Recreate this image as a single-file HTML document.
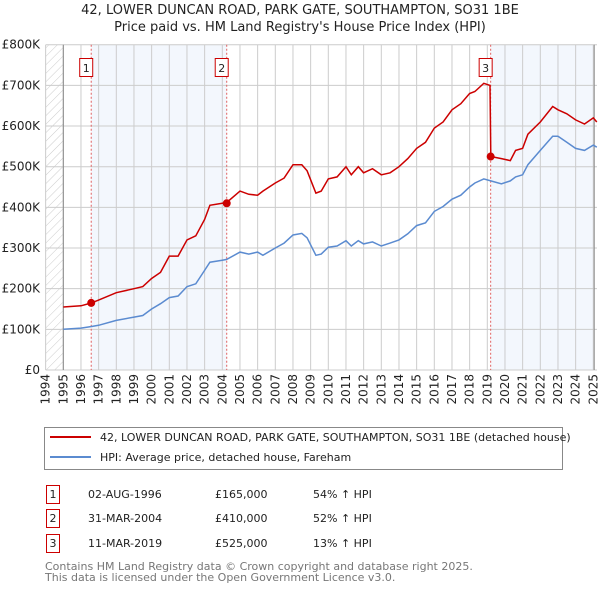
<!DOCTYPE html>
<html><head><meta charset="utf-8">
<style>
body{margin:0;background:#fff;font-family:"Liberation Sans","DejaVu Sans",sans-serif;}
svg text{font-family:"DejaVu Sans","Liberation Sans",sans-serif;}
</style></head>
<body>
<svg id="chart" width="600" height="590" viewBox="0 0 600 590">
<defs>
<pattern id="hatch" width="6" height="6" patternUnits="userSpaceOnUse" patternTransform="rotate(45)">
<line x1="0" y1="0" x2="0" y2="6" stroke="#ccc" stroke-width="1"/>
</pattern>
</defs>
<text x="300" y="14" text-anchor="middle" font-size="13" fill="#222">42, LOWER DUNCAN ROAD, PARK GATE, SOUTHAMPTON, SO31 1BE</text>
<text x="300" y="31" text-anchor="middle" font-size="13" fill="#222">Price paid vs. HM Land Registry's House Price Index (HPI)</text>
<g id="plot"></g>
<g id="legend">
<rect x="44.5" y="427.5" width="518" height="42" fill="#fff" stroke="#888"/>
<line x1="50" y1="437" x2="91" y2="437" stroke="#cc0000" stroke-width="2"/>
<text x="100" y="441" font-size="11" fill="#222">42, LOWER DUNCAN ROAD, PARK GATE, SOUTHAMPTON, SO31 1BE (detached house)</text>
<line x1="50" y1="457" x2="91" y2="457" stroke="#5b8bd0" stroke-width="2"/>
<text x="100" y="461" font-size="11" fill="#222">HPI: Average price, detached house, Fareham</text>
</g>
<g id="table" font-size="11" fill="#222">
<rect x="46.5" y="485.5" width="13" height="18" fill="#fff" stroke="#cc0000"/><text x="53" y="498" text-anchor="middle">1</text>
<text x="88" y="498">02-AUG-1996</text><text x="215" y="498">£165,000</text><text x="313" y="498">54% ↑ HPI</text>
<rect x="46.5" y="509.5" width="13" height="18" fill="#fff" stroke="#cc0000"/><text x="53" y="522" text-anchor="middle">2</text>
<text x="88" y="522">31-MAR-2004</text><text x="215" y="522">£410,000</text><text x="313" y="522">52% ↑ HPI</text>
<rect x="46.5" y="534.5" width="13" height="18" fill="#fff" stroke="#cc0000"/><text x="53" y="547" text-anchor="middle">3</text>
<text x="88" y="547">11-MAR-2019</text><text x="215" y="547">£525,000</text><text x="313" y="547">13% ↑ HPI</text>
</g>
<text x="45" y="570" font-size="11" fill="#777">Contains HM Land Registry data © Crown copyright and database right 2025.</text>
<text x="45" y="581" font-size="11" fill="#777">This data is licensed under the Open Government Licence v3.0.</text>
</svg>
<script>
const hpiYears=[1995,1996,1996.6,1997,1998,1999,1999.5,2000,2000.5,2001,2001.5,2002,2002.5,2003,2003.3,2004,2004.25,2005,2005.5,2006,2006.3,2007,2007.5,2008,2008.5,2008.8,2009.3,2009.6,2010,2010.5,2011,2011.3,2011.7,2012,2012.5,2013,2013.5,2014,2014.5,2015,2015.5,2016,2016.5,2017,2017.5,2018,2018.3,2018.8,2019.2,2019.8,2020.3,2020.6,2021,2021.3,2022,2022.7,2023,2023.5,2024,2024.5,2025,2025.2];
const hpiValues=[100,103,107,110,122,130,134,150,163,178,182,205,212,245,265,270,272,290,285,290,282,300,312,332,336,325,282,285,302,305,318,305,318,310,315,305,312,320,335,355,362,390,402,420,430,450,460,470,465,458,465,475,480,505,540,575,575,560,545,540,553,548];
const priceYears=[1995,1996,1996.6,1997,1998,1999,1999.5,2000,2000.5,2001,2001.5,2002,2002.5,2003,2003.3,2004,2004.25,2005,2005.5,2006,2006.3,2007,2007.5,2008,2008.5,2008.8,2009.3,2009.6,2010,2010.5,2011,2011.3,2011.7,2012,2012.5,2013,2013.5,2014,2014.5,2015,2015.5,2016,2016.5,2017,2017.5,2018,2018.3,2018.8,2019.15,2019.2,2019.8,2020.3,2020.6,2021,2021.3,2022,2022.7,2023,2023.5,2024,2024.5,2025,2025.2];
const priceValues=[155,158,165,172,190,200,205,225,240,280,280,320,330,370,405,410,412,440,432,430,440,460,472,505,505,490,435,440,470,475,500,480,500,485,495,480,485,500,520,545,560,595,610,640,655,680,685,705,700,525,520,515,540,545,580,610,648,640,630,615,605,620,610];
const saleYears=[1996.58,2004.25,2019.19];
const saleValues=[165,410,525];
const saleLabels=["1","2","3"];
const yTicks=[0,100,200,300,400,500,600,700,800];
const yTickLabels=["£0","£100K","£200K","£300K","£400K","£500K","£600K","£700K","£800K"];
const xTicks=[1994,1995,1996,1997,1998,1999,2000,2001,2002,2003,2004,2005,2006,2007,2008,2009,2010,2011,2012,2013,2014,2015,2016,2017,2018,2019,2020,2021,2022,2023,2024,2025];

const L=45.7,R=597,T=44.7,B=370;
const x=v=>63.3+(v-1995)*17.667;
const y=v=>B-(v/800)*(B-T);
const NS="http://www.w3.org/2000/svg";
const g=document.getElementById('plot');
function el(t,a,p){const e=document.createElementNS(NS,t);for(const k in a)e.setAttribute(k,a[k]);(p||g).appendChild(e);return e;}

// shading
let s1=el('rect',{x:x(saleYears[0]),y:T,width:x(saleYears[1])-x(saleYears[0]),height:B-T,fill:'#eef3fc',opacity:0.7});


let s2=el('rect',{x:x(saleYears[2]),y:T,width:x(2025)-x(saleYears[2]),height:B-T,fill:'#eef3fc',opacity:0.7});


let hz=el('rect',{x:L,y:T,width:x(1995)-L,height:B-T,fill:'url(#hatch)'});


// grid
yTicks.forEach((t,i)=>{
  let ln=el('line',{x1:L,x2:R,y1:y(t),y2:y(t),stroke:'#ccc','stroke-width':1});
  
  
  let tx=el('text',{x:40,y:y(t)+4,'text-anchor':'end','font-size':12,fill:'#222'});
  tx.textContent=yTickLabels[i];
  
  
});
xTicks.forEach(t=>{
  let ln=el('line',{x1:x(t),x2:x(t),y1:T,y2:B,stroke:'#ccc','stroke-width':1});
  
  
  let tx=el('text',{x:0,y:0,'text-anchor':'end','font-size':12,fill:'#222',transform:`translate(${x(t)+4},${B+4}) rotate(-90)`});
  tx.textContent=t;
  
  
});
let ax=el('line',{x1:x(1995),x2:x(1995),y1:T,y2:B,stroke:'#888'});


let ax2=el('line',{x1:x(2025.05),x2:x(2025.05),y1:T,y2:B,stroke:'#888'});


// sale markers vlines
saleYears.forEach((sy,i)=>{
  let v=el('line',{x1:x(sy),x2:x(sy),y1:T,y2:B,stroke:'#e06060','stroke-dasharray':'2,2','stroke-width':1});
  
  
  let bx=el('rect',{x:x(sy)-11.5,y:58.5,width:13,height:18,fill:'#fff',stroke:'#cc0000'});
  
  
  let tx=el('text',{x:x(sy)-5,y:72,'text-anchor':'middle','font-size':11,fill:'#222'});
  tx.textContent=saleLabels[i];
  
  
});
function path(xs,vs){return xs.map((a,i)=>(i?'L':'M')+x(a).toFixed(1)+','+y(vs[i]).toFixed(1)).join('');}
let hp=el('path',{d:path(hpiYears,hpiValues),fill:'none',stroke:'#5b8bd0','stroke-width':1.5});


let pp=el('path',{d:path(priceYears,priceValues),fill:'none',stroke:'#cc0000','stroke-width':1.5});


saleYears.forEach((sy,i)=>{
  let c=el('circle',{cx:x(sy),cy:y(saleValues[i]),r:4,fill:'#cc0000'});
  
  
});
</script>
</body></html>
